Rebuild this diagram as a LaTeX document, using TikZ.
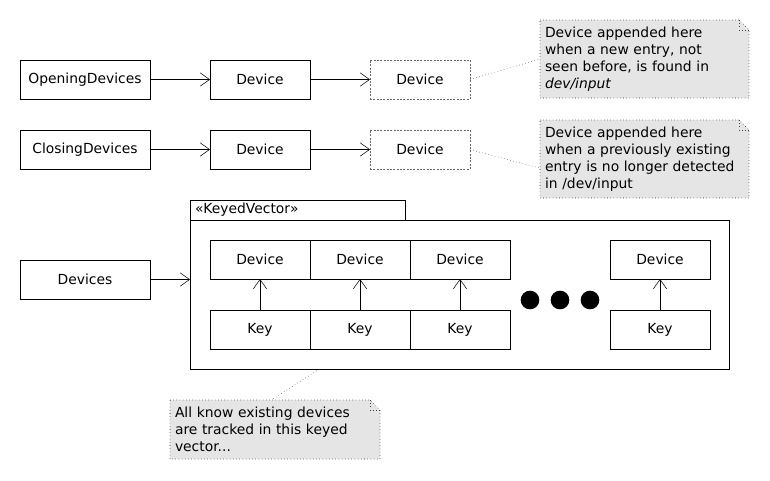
\documentclass[tikz,border=0pt]{standalone}
\usepackage{fontspec}
\setmainfont{DejaVu Sans}
\usetikzlibrary{positioning}
\usetikzlibrary{calc}
\usetikzlibrary{arrows.meta}
\usetikzlibrary{backgrounds}

\begin{document}
\begin{tikzpicture}[x=0.75pt,y=-0.75pt,
      font=\fontsize{10.4}{12.9}\selectfont,
      elementblock/.style={draw,rectangle,outer sep=0pt,minimum width=75pt,minimum height=29.25pt},
      listblock/.style={elementblock,minimum width=97.5pt},
      ghostblock/.style={elementblock,draw=gray!80!black,dash pattern=on 1.5pt off 1pt},
      noteblock/.style={rectangle,anchor=north west,align=left,outer sep=0pt,inner xsep=3.75pt},
      notebox/.style={fill=gray!20,draw=gray!30!black,dotted},
      notelink/.style={dotted,draw=gray!50!black},
      arrow/.style={-{Straight Barb[length=7pt,width=10pt]}},
      node distance=45pt]
      \useasboundingbox (0,0) rectangle (770,480);

      % Opening row
      \node[listblock]                    (opening)  at (85,79.5) {OpeningDevices};
      \node[elementblock,right=of opening]  (open dev)  {Device};
      \node[ghostblock,right=of open dev]   (open new)  {Device};
      \node[noteblock,text width=149.25pt,minimum height=58.5pt] (open note) at (540,20)
            {Device appended here\\when a new entry, not\\seen before, is found in\\\textit{dev/input}};

      % Closing row
      \node[listblock]                    (closing)  at (85,149.5) {ClosingDevices};
      \node[elementblock,right=of closing]  (close dev) {Device};
      \node[ghostblock,right=of close dev]  (close old) {Device};
      \node[noteblock,text width=149.25pt,minimum height=58.5pt] (close note) at (540,120)
            {Device appended here\\when a previously existing\\entry is no longer detected\\in /dev/input};

      % Keyed vector
      \node[listblock] (devices) at (85,279.5) {Devices};
      \node[draw,anchor=north west,outer sep=0pt,minimum width=404.25pt,minimum height=111.75pt] (vector) at (190,220) {};
      \node[draw,anchor=south west,outer sep=0pt,inner xsep=3.75pt,inner ysep=0pt,text width=153.75pt,minimum height=15pt] (vector tab) at (vector.north west) {«KeyedVector»};
      \foreach \i/\x in {1/260,2/360,3/460,4/660} {
        \node[elementblock] (dev\i) at (\x,259.5) {Device};
        \node[elementblock] (key\i) at (\x,329.5) {Key};
        \draw[arrow] (key\i) -- (dev\i);
      }
      \foreach \x in {530,560,590}
        \fill (\x,300) circle (7pt);
      \node[noteblock,text width=150pt,minimum height=44.25pt] (store note) at (170,400)
            {All know existing devices\\are tracked in this keyed\\vector...};

      % Arrows
      \draw[arrow] (opening) -- (open dev);
      \draw[arrow] (open dev) -- (open new);
      \draw[arrow] (closing) -- (close dev);
      \draw[arrow] (close dev) -- (close old);
      \draw[arrow] (devices.east) -- (devices.east -| vector.west);

      % Notes
      \draw[notelink] (open new.east) -- (open note.west);
      \draw[notelink] (close old.east) -- (close note.185);
      \draw[notelink] ($(vector.south west)!0.24!(vector.south east)$) -- (store note.97);
      \begin{scope}[on background layer]
        \foreach \n in {open note,close note,store note} {
          \draw[notebox] (\n.north west) -- ([xshift=-7.5pt]\n.north east) -- ([yshift=-7.5pt]\n.north east) -- (\n.south east) -- (\n.south west) -- cycle;
          \draw[notelink] ([xshift=-7.5pt]\n.north east) |- ([yshift=-7.5pt]\n.north east);
        }
      \end{scope}

    \end{tikzpicture}
\end{document}
